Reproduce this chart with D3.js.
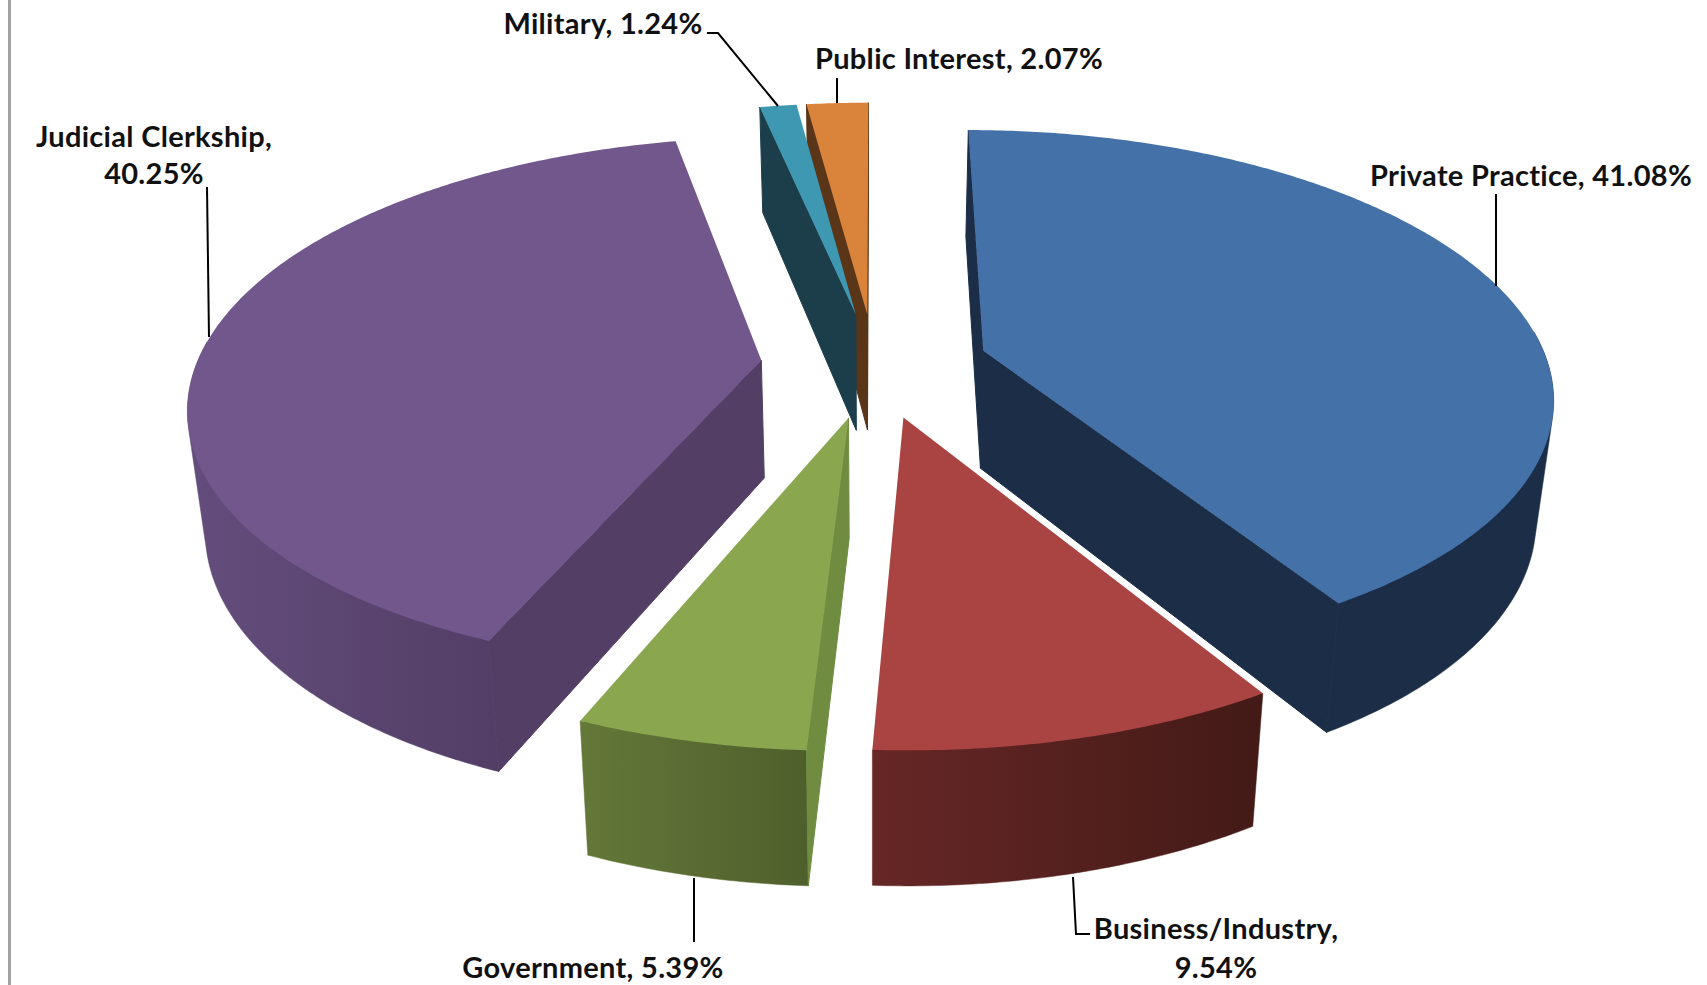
<!DOCTYPE html>
<html>
<head>
<meta charset="utf-8">
<script src="https://cdn.jsdelivr.net/npm/d3@7"></script>
<style>
    html, body { margin: 0; padding: 0; background: #fff; overflow: hidden; }
    text { font-family: Lato, "Noto Sans", sans-serif; font-weight: 700; fill: #111; letter-spacing: 0.3px; }
</style>
</head>
<body>
<div id="chart"></div>
<script>
const categories = ['Private Practice', 'Business/Industry', 'Government', 'Judicial Clerkship', 'Military', 'Public Interest'];
const shares = [41.08, 9.54, 5.39, 40.25, 1.24, 2.07];
const topColors = ['#4472a8', '#a94442', '#8aa64f', '#71578c', '#3f98b2', '#da833b'];
const cutColors = ['#1b2d47', '#431a16', '#708c40', '#533f66', '#1b3e4a', '#5a3518'];
const wallLeft = ['#1b2d47', '#662726', '#647839', '#644d7c', '#1b3e4a', '#5a3518'];
const wallRight = ['#1b2d47', '#431a16', '#4f5f2c', '#523e66', '#1b3e4a', '#5a3518'];

// text lines and where they sit, then the leader lines
const labels = [
    { lines: ['Private Practice, 41.08%'], x: 1531, y: [186] },
    { lines: ['Business/Industry,', '9.54%'], x: 1216, y: [939, 978] },
    { lines: ['Government, 5.39%'], x: 593, y: [978] },
    { lines: ['Judicial Clerkship,', '40.25%'], x: 154, y: [147, 184] },
    { lines: ['Military, 1.24%'], x: 603, y: [34] },
    { lines: ['Public Interest, 2.07%'], x: 959, y: [69] }
];
const leaders = [
    [[1496, 194], [1496, 286]],
    [[1073, 877], [1076, 934], [1090, 934]],
    [[694, 878], [694, 942]],
    [[207, 187], [209, 337]],
    [[707, 33], [718, 33], [778, 106]],
    [[837, 78], [837, 103]]
];

const width = 1707, height = 985;
const cx = 874.5, cy = 365, explode = 114, radius = 565, thick = 118;
const flatten = 0.461, camera = 3520, shrink = 0.974;

const svg = d3.select('#chart').append('svg')
    .attr('width', width)
    .attr('height', height);
const defs = svg.append('defs');

svg.append('line')
    .attr('x1', 9.5).attr('x2', 9.5)
    .attr('y1', 0).attr('y2', height)
    .attr('stroke', '#a3a3a3')
    .attr('stroke-width', 3);

const slices = d3.pie().sort(null)(shares).map((d, i) => ({
    i: i,
    start: d.startAngle,
    end: d.endAngle,
    mid: (d.startAngle + d.endAngle) / 2
}));

// angle clockwise from the top, r from the apex, bottom = the lower face
function project(s, angle, r, bottom) {
    const X = explode * Math.sin(s.mid) + r * Math.sin(angle);
    const Y = -explode * Math.cos(s.mid) - r * Math.cos(angle);
    const w = 1 / (1 - Y / camera);
    if (bottom) {
        return [cx + X * w * shrink, cy + flatten * Y * w + thick * Math.pow(w, 0.65)];
    }
    return [cx + X * w, cy + flatten * Y * w];
}

function angles(from, to) {
    const n = Math.ceil((to - from) / 0.01);
    return d3.range(n + 1).map(k => from + (to - from) * k / n);
}

const line = d3.line();
const closed = p => line(p) + 'Z';

// back slices first
const order = slices.slice().sort((a, b) => Math.cos(b.mid) - Math.cos(a.mid));

order.forEach(s => {
    const g = svg.append('g');
    const apexTop = project(s, 0, 0, false);
    const apexBottom = project(s, 0, 0, true);

    // outer wall as a hull of both rims, the top face hides the inner part
    const front = angles(s.start, s.end).filter(a => Math.cos(a) < 0.08);
    if (front.length > 1) {
        const rims = front.map(a => project(s, a, radius, false))
            .concat(front.map(a => project(s, a, radius, true)));
        const xs = d3.extent(rims, p => p[0]);
        const grad = defs.append('linearGradient')
            .attr('id', 'wall' + s.i)
            .attr('gradientUnits', 'userSpaceOnUse')
            .attr('x1', xs[0]).attr('x2', xs[1])
            .attr('y1', 0).attr('y2', 0);
        grad.append('stop').attr('offset', 0).attr('stop-color', wallLeft[s.i]);
        grad.append('stop').attr('offset', 1).attr('stop-color', wallRight[s.i]);
        g.append('path')
            .attr('d', closed(d3.polygonHull(rims)))
            .attr('fill', 'url(#wall' + s.i + ')')
            .attr('stroke', 'url(#wall' + s.i + ')')
            .attr('stroke-width', 0.5);
    }

    // the two cut faces, only the one facing us, over the wall so no seam shows
    const cuts = [
        [apexTop, project(s, s.start, radius, false), project(s, s.start, radius, true), apexBottom],
        [apexTop, apexBottom, project(s, s.end, radius, true), project(s, s.end, radius, false)]
    ];
    cuts.filter(c => d3.polygonArea(c) > 0).forEach(c => {
        g.append('path')
            .attr('d', closed(c))
            .attr('fill', cutColors[s.i])
            .attr('stroke', cutColors[s.i])
            .attr('stroke-width', 1);
    });

    const rim = angles(s.start, s.end).map(a => project(s, a, radius, false));
    g.append('path')
        .attr('d', closed([apexTop].concat(rim)))
        .attr('fill', topColors[s.i]);
});

svg.selectAll('path.leader').data(leaders).enter()
    .append('path')
    .classed('leader', true)
    .attr('d', d => line(d))
    .attr('fill', 'none')
    .attr('stroke', '#000')
    .attr('stroke-width', 2);

labels.forEach(l => {
    l.lines.forEach((t, k) => {
        svg.append('text')
            .attr('x', l.x)
            .attr('y', l.y[k])
            .attr('text-anchor', 'middle')
            .attr('font-size', 29)
            .text(t);
    });
});
</script>
</body>
</html>
